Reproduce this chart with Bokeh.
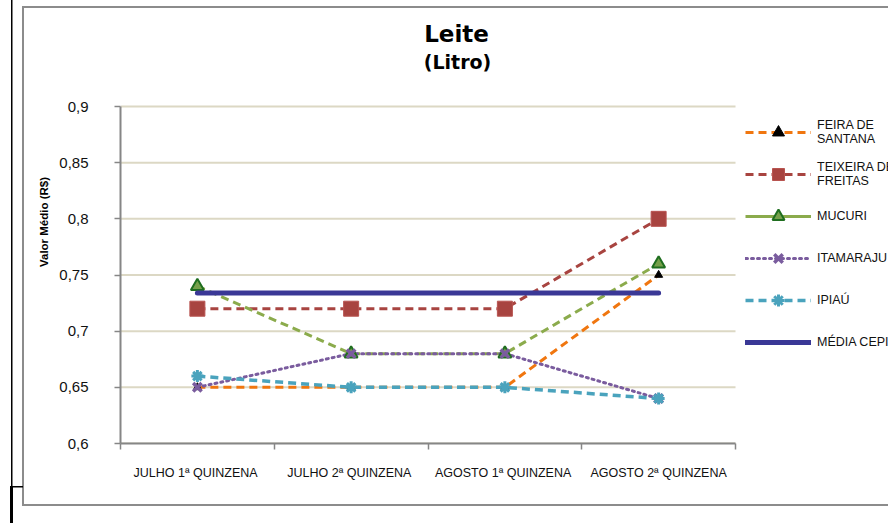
from bokeh.plotting import figure
from bokeh.models import FixedTicker, Legend, LegendItem, Label, Range1d, InlineStyleSheet
from bokeh.embed import file_html
from bokeh.resources import INLINE

# ---- data ----
categories = ["JULHO  1ª QUINZENA", "JULHO  2ª QUINZENA", "AGOSTO  1ª QUINZENA", "AGOSTO 2ª QUINZENA"]
feira_de_santana = [0.65, 0.65, 0.65, 0.75]
teixeira_de_freitas = [0.72, 0.72, 0.72, 0.80]
mucuri = [0.74, 0.68, 0.68, 0.76]
itamaraju = [0.65, 0.68, 0.68, 0.64]
ipiau = [0.66, 0.65, 0.65, 0.64]
media_cepi = [0.734, 0.734, 0.734, 0.734]
series_labels = ["FEIRA DE\nSANTANA", "TEIXEIRA DE\nFREITAS", "MUCURI", "ITAMARAJU", "IPIAÚ", "MÉDIA CEPI"]
y_ticks = [0.6, 0.65, 0.7, 0.75, 0.8, 0.85, 0.9]
y_tick_labels = ["0,6", "0,65", "0,7", "0,75", "0,8", "0,85", "0,9"]
title_text = "Leite"
subtitle_text = "(Litro)"
y_title = "Valor Médio (R$)"

# ---- layout (px) ----
W, H = 888, 523
FL, FB = 120, 443          # canvas frame left / bottom
PR, PT = 735, 106          # right / top of the actual plotting area
n = len(categories)
x_end = n * (W - FL) / (PR - FL)                                      # frame extends to the right edge
y_end = y_ticks[0] + (y_ticks[-1] - y_ticks[0]) * FB / (FB - PT)      # frame extends to the top edge


def sx(px):
    return px - FL


def sy(py):
    return FB - py


xs = [i + 0.5 for i in range(n)]

p = figure(width=W, height=H, x_range=Range1d(0, x_end), y_range=Range1d(y_ticks[0], y_end),
           output_backend="svg", toolbar_location=None, title=None,
           min_border_left=FL, min_border_right=0, min_border_top=0, min_border_bottom=H - FB)
p.outline_line_color = None
p.background_fill_color = "white"
p.border_fill_color = "white"

# axes
p.xaxis.bounds = (0, n)
p.xaxis.ticker = FixedTicker(ticks=xs, minor_ticks=list(range(n + 1)))
p.xaxis.major_label_overrides = {x: c for x, c in zip(xs, categories)}
p.xaxis.major_tick_out = 0
p.xaxis.major_tick_in = 0
p.xaxis.minor_tick_out = 6
p.xaxis.minor_tick_in = 0
p.xaxis.minor_tick_line_color = "#868686"
p.xaxis.minor_tick_line_width = 1.5
p.xaxis.axis_line_color = "#868686"
p.xaxis.axis_line_width = 2
p.xaxis.major_label_text_font = "Liberation Sans"
p.xaxis.major_label_text_font_size = "12.5px"
p.xaxis.major_label_text_color = "#111111"
p.xaxis.major_label_standoff = 16

p.yaxis.bounds = (y_ticks[0], y_ticks[-1])
p.yaxis.ticker = FixedTicker(ticks=y_ticks, minor_ticks=[])
p.yaxis.major_label_overrides = {t: l for t, l in zip(y_ticks, y_tick_labels)}
p.yaxis.major_tick_out = 6
p.yaxis.major_tick_in = 0
p.yaxis.major_tick_line_color = "#868686"
p.yaxis.major_tick_line_width = 1.5
p.yaxis.axis_line_color = "#868686"
p.yaxis.axis_line_width = 2
p.yaxis.major_label_text_font = "Liberation Sans"
p.yaxis.major_label_text_font_size = "15px"
p.yaxis.major_label_text_color = "#111111"
p.yaxis.major_label_standoff = 26
p.yaxis.axis_label = y_title
p.yaxis.axis_label_text_font = "Liberation Sans"
p.yaxis.axis_label_text_font_size = "11.5px"
p.yaxis.axis_label_text_font_style = "bold"
p.yaxis.axis_label_text_color = "black"
p.yaxis.axis_label_standoff = 6

p.xgrid.visible = False
p.ygrid.visible = False
# horizontal gridlines limited to the plotting area
p.segment(x0=[0] * len(y_ticks), x1=[n] * len(y_ticks), y0=y_ticks, y1=y_ticks,
          line_color="#dcd8c4", line_width=2)

# titles
p.add_layout(Label(x=sx(456), y=sy(33), x_units="screen", y_units="screen", text=title_text,
                   text_font="DejaVu Sans", text_font_size="23px", text_font_style="bold",
                   text_align="center", text_baseline="middle", text_color="black"))
p.add_layout(Label(x=sx(457), y=sy(61), x_units="screen", y_units="screen", text=subtitle_text,
                   text_font="DejaVu Sans", text_font_size="19px", text_font_style="bold",
                   text_align="center", text_baseline="middle", text_color="black"))

# series
l1 = p.line(xs, feira_de_santana, line_color="#f0760f", line_width=3, line_dash="8 5")
l2 = p.line(xs, teixeira_de_freitas, line_color="#a84440", line_width=3, line_dash="8 5")
l3 = p.line(xs, mucuri, line_color="#8bab4c", line_width=3, line_dash="8 5")
# legend-only proxy (solid line in the legend, nothing drawn on the chart)
l3_leg = p.line(xs, [float("nan")] * n, line_color="#8bab4c", line_width=3)
l4 = p.line(xs, itamaraju, line_color="#7a5c9e", line_width=3, line_dash="2 4", line_cap="round")
l5 = p.line(xs, ipiau, line_color="#4aa3bd", line_width=3.5, line_dash="8 5")

m1 = p.scatter(xs, feira_de_santana, marker="triangle", size=8, fill_color="black", line_color="black")
m2 = p.scatter(xs, teixeira_de_freitas, marker="square", size=15, fill_color="#a84440", line_color="#b85450")
m3 = p.scatter(xs, mucuri, marker="triangle", size=13, fill_color="#76a04a", line_color="#1f6e1f", line_width=2)
m4 = p.scatter(xs, itamaraju, marker="x", size=12, line_color="#7a5c9e", line_width=3.5)
m5 = p.scatter(xs, ipiau, marker="asterisk", size=12, line_color="#4aa3bd", line_width=3)

l6 = p.line(xs, media_cepi, line_color="#3a3896", line_width=5, line_cap="round")

legend = Legend(items=[
    LegendItem(label=series_labels[0], renderers=[l1, m1]),
    LegendItem(label=series_labels[1], renderers=[l2, m2]),
    LegendItem(label=series_labels[2], renderers=[l3_leg, m3]),
    LegendItem(label=series_labels[3], renderers=[l4, m4]),
    LegendItem(label=series_labels[4], renderers=[l5, m5]),
    LegendItem(label=series_labels[5], renderers=[l6]),
], location=(sx(745), sy(357)), glyph_width=66, glyph_height=30, label_height=30, spacing=12,
    padding=0, margin=0, label_standoff=6, border_line_alpha=0, background_fill_alpha=0,
    label_text_font="Liberation Sans", label_text_font_size="12.5px", label_text_color="#111111",
    label_text_line_height=1.2)
p.add_layout(legend)

# decorations: outer chart frame and page lines
deco = InlineStyleSheet(css="""
:host::before { content: ""; position: absolute; left: 21.5px; top: 6px; width: 866.5px; height: 500px;
  border: 2px solid #8c8c8c; border-right: none; box-sizing: border-box; pointer-events: none; z-index: 5; }
:host::after { content: ""; position: absolute; left: 10px; top: 0px; width: 13px; height: 523px;
  pointer-events: none; z-index: 5;
  background-image: linear-gradient(#000, #000), linear-gradient(#000, #000), linear-gradient(#000, #000);
  background-size: 1.5px 486px, 12px 1.5px, 3px 37px;
  background-position: 0.5px 0px, 1px 485.5px, 0px 486px;
  background-repeat: no-repeat; }
""")
p.stylesheets = [deco]

open("out.html", "w").write(file_html(p, INLINE))
